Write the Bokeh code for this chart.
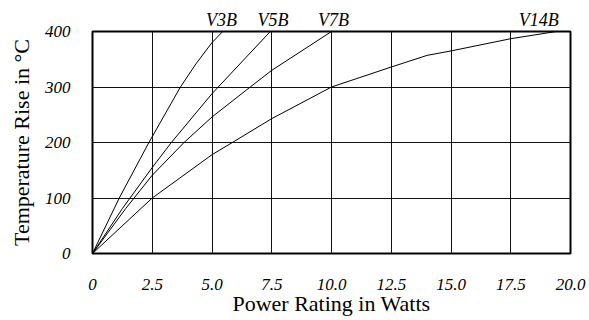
from bokeh.plotting import figure
from bokeh.models import Range1d, FixedTicker, LinearAxis
from bokeh.embed import file_html
from bokeh.resources import INLINE

# ---- data ----
v3b_x = [0, 1.12, 2.36, 3.68, 4.35, 5.0, 5.45]
v3b_y = [0, 100, 200, 300, 343, 380, 400]
v5b_x = [0, 1.25, 2.5, 3.3, 5.0, 7.44]
v5b_y = [0, 81, 155, 200, 288, 400]
v7b_x = [0, 1.39, 2.5, 3.83, 5.0, 6.6, 7.5, 10.0]
v7b_y = [0, 81, 141, 200, 246, 300, 330, 400]
v14b_x = [0, 2.5, 5.0, 5.85, 7.5, 10.0, 12.5, 14.0, 15.0, 17.5, 19.4]
v14b_y = [0, 100, 178, 200, 243, 300, 336, 357, 365, 387, 400]

curve_names = ["V3B", "V5B", "V7B", "V14B"]
curve_label_x = [5.4, 7.55, 10.08, 18.67]

x_ticks = [0, 2.5, 5.0, 7.5, 10.0, 12.5, 15.0, 17.5, 20.0]
x_tick_labels = ["0", "2.5", "5.0", "7.5", "10.0", "12.5", "15.0", "17.5", "20.0"]
y_ticks = [0, 100, 200, 300, 400]
y_tick_labels = ["0", "100", "200", "300", "400"]

FONT = "Liberation Serif"

p = figure(width=589, height=320, output_backend="svg", toolbar_location=None,
           x_range=Range1d(0, 20), y_range=Range1d(0, 400),
           min_border_left=92, min_border_right=19, min_border_top=31, min_border_bottom=67)
p.background_fill_color = "white"
p.border_fill_color = "white"
p.outline_line_color = "black"
p.outline_line_width = 2

bottom_axis = p.below[0]
left_axis = p.left[0]

top_axis = LinearAxis(ticker=FixedTicker(ticks=curve_label_x),
                      major_label_overrides=dict(zip(curve_label_x, curve_names)))
p.add_layout(top_axis, "above")

for ax in (bottom_axis, left_axis, top_axis):
    ax.axis_line_color = None
    ax.major_tick_line_color = None
    ax.minor_tick_line_color = None
    ax.major_tick_out = 0
    ax.major_tick_in = 0
    ax.major_label_text_font = FONT
    ax.major_label_text_font_style = "italic"
    ax.major_label_text_font_size = "17px"
    ax.major_label_text_color = "black"
    ax.axis_label_text_font = FONT
    ax.axis_label_text_font_style = "normal"
    ax.axis_label_text_font_size = "22px"
    ax.axis_label_text_color = "black"

top_axis.major_label_standoff = 2
top_axis.major_label_text_font_size = "18px"

bottom_axis.ticker = FixedTicker(ticks=x_ticks)
bottom_axis.major_label_overrides = dict(zip(x_ticks, x_tick_labels))
left_axis.ticker = FixedTicker(ticks=y_ticks)
left_axis.major_label_overrides = dict(zip(y_ticks, y_tick_labels))
bottom_axis.axis_label = "Power Rating in Watts"
left_axis.axis_label = "Temperature Rise in °C"
bottom_axis.major_label_standoff = 25
bottom_axis.axis_label_standoff = -2
left_axis.major_label_standoff = 22
left_axis.axis_label_standoff = 8
left_axis.major_label_orientation = "horizontal"

p.xgrid.ticker = FixedTicker(ticks=x_ticks)
p.ygrid.ticker = FixedTicker(ticks=y_ticks)
p.xgrid.grid_line_color = "#111111"
p.ygrid.grid_line_color = "#111111"
p.xgrid.grid_line_width = 1
p.ygrid.grid_line_width = 1

for xs, ys in ((v3b_x, v3b_y), (v5b_x, v5b_y), (v7b_x, v7b_y), (v14b_x, v14b_y)):
    p.line(xs, ys, line_color="black", line_width=1)

open("out.html", "w").write(file_html(p, INLINE))
